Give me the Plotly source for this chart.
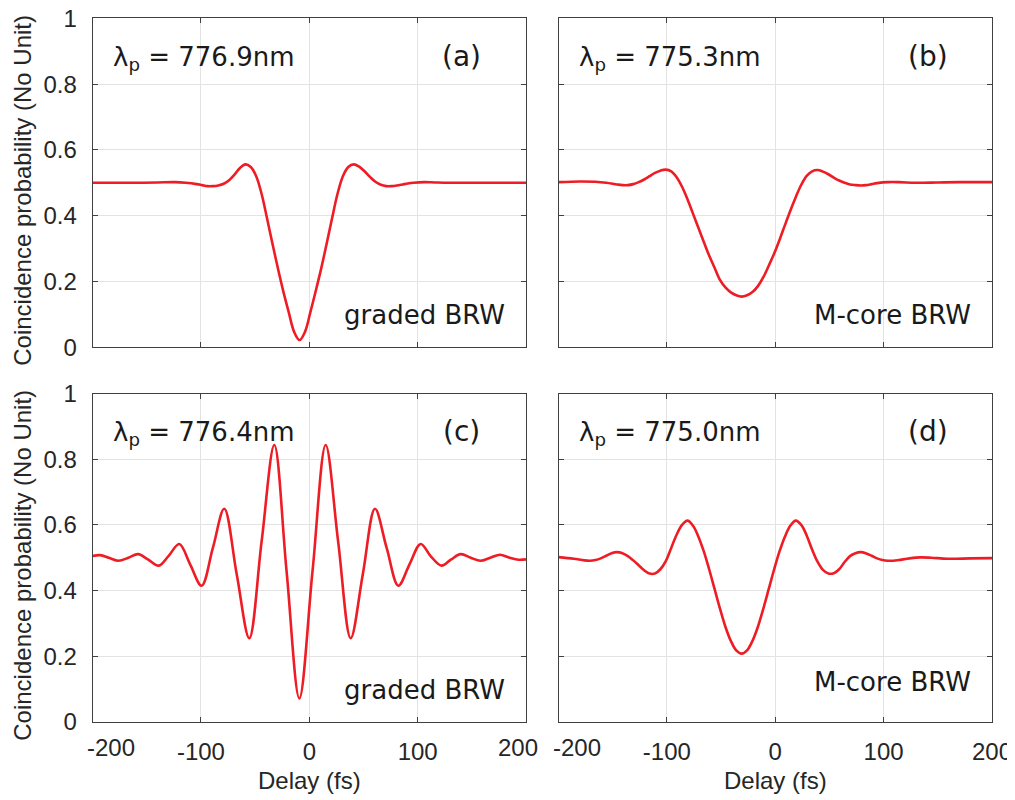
import plotly.graph_objects as go
from plotly.subplots import make_subplots

# (a) graded BRW, lambda_p = 776.9 nm
delay_a = [-200, -180, -160, -140, -124, -114, -104, -99, -94, -89, -84, -79, -74, -69, -64,
           -59, -54, -49, -44, -39, -34, -29, -24, -19, -14, -9, -4, 1, 6, 11, 16, 21, 26, 31, 36, 41,
           46, 51, 56, 61, 66, 71, 76, 81, 86, 91, 96, 106, 116, 130, 160, 200]
prob_a = [0.500, 0.500, 0.500, 0.501, 0.502, 0.500, 0.496, 0.493, 0.490, 0.490, 0.492, 0.497,
          0.508, 0.525, 0.545, 0.556, 0.548, 0.520, 0.466, 0.392, 0.315, 0.240, 0.170, 0.107, 0.047,
          0.022, 0.047, 0.107, 0.172, 0.240, 0.315, 0.392, 0.466, 0.520, 0.548, 0.556, 0.549, 0.535,
          0.518, 0.503, 0.494, 0.490, 0.490, 0.492, 0.495, 0.498, 0.500, 0.502, 0.501, 0.500, 0.500,
          0.500]

# (b) M-core BRW, lambda_p = 775.3 nm
delay_b = [-200, -180, -166, -156, -146, -141, -136, -131, -126, -121, -116, -111, -106, -101, -96,
           -91, -86, -81, -76, -71, -66, -61, -56, -51, -46, -41, -36, -31, -26, -21, -16, -11, -6,
           -1, 4, 9, 14, 19, 24, 29, 34, 39, 44, 49, 54, 59, 64, 69, 74, 79, 84, 89, 94, 104, 114,
           130, 150, 170, 200]
prob_b = [0.502, 0.504, 0.503, 0.500, 0.495, 0.493, 0.493, 0.496, 0.502, 0.510, 0.520, 0.530,
          0.537, 0.540, 0.535, 0.517, 0.488, 0.450, 0.407, 0.364, 0.321, 0.279, 0.242, 0.205, 0.182,
          0.167, 0.158, 0.154, 0.158, 0.168, 0.186, 0.213, 0.248, 0.285, 0.327, 0.372, 0.416, 0.457,
          0.494, 0.521, 0.535, 0.539, 0.534, 0.526, 0.516, 0.507, 0.500, 0.495, 0.493, 0.492, 0.493,
          0.496, 0.499, 0.502, 0.502, 0.500, 0.501, 0.502, 0.502]

# (c) graded BRW, lambda_p = 776.4 nm
delay_c = [-200, -193, -185, -176, -167, -158, -149, -139, -130, -120, -110, -99.4, -89, -78.5, -67,
           -55.4, -44, -32.3, -21, -9.2, 3, 15.1, 26.6, 38.2, 49.4, 60.6, 71.4, 82.2, 92.5, 102.8,
           112, 122, 131, 139.7, 149, 158, 167, 176, 185, 193, 200]
prob_c = [0.505, 0.508, 0.500, 0.491, 0.500, 0.511, 0.495, 0.476, 0.505, 0.542, 0.480, 0.415, 0.530,
          0.649, 0.450, 0.255, 0.550, 0.843, 0.460, 0.072, 0.460, 0.843, 0.550, 0.255, 0.450, 0.649,
          0.530, 0.415, 0.480, 0.542, 0.505, 0.476, 0.495, 0.511, 0.500, 0.491, 0.500, 0.509, 0.500,
          0.494, 0.495]

# (d) M-core BRW, lambda_p = 775.0 nm
delay_d = [-200, -186, -176, -171, -166, -161, -156, -151, -146, -141, -136, -131, -126, -121, -116,
           -111, -106, -101, -96, -91, -86, -81, -76, -71, -66, -61, -56, -51, -46, -41, -36, -31,
           -26, -21, -16, -11, -6, -1, 4, 9, 14, 19, 24, 29, 34, 39, 44, 49, 54, 59, 64, 69, 74, 79,
           84, 89, 94, 99, 104, 109, 114, 124, 134, 144, 159, 180, 200]
prob_d = [0.502, 0.497, 0.492, 0.491, 0.493, 0.498, 0.506, 0.514, 0.517, 0.514, 0.505, 0.492, 0.477,
          0.462, 0.452, 0.452, 0.465, 0.490, 0.530, 0.570, 0.600, 0.613, 0.598, 0.565, 0.520, 0.465,
          0.405, 0.345, 0.290, 0.247, 0.218, 0.208, 0.218, 0.247, 0.290, 0.345, 0.405, 0.465, 0.520,
          0.565, 0.598, 0.613, 0.600, 0.568, 0.525, 0.488, 0.463, 0.452, 0.453, 0.465, 0.487, 0.505,
          0.514, 0.517, 0.513, 0.506, 0.498, 0.493, 0.491, 0.491, 0.493, 0.498, 0.501, 0.500, 0.497,
          0.498, 0.499]

wavelengths = ["776.9", "775.3", "776.4", "775.0"]
tags = ["(a)", "(b)", "(c)", "(d)"]
devices = ["graded BRW", "M-core BRW", "graded BRW", "M-core BRW"]

# the page adds an 8px body margin, so the figure is drawn 8px in from the window corner
OFF = 8
W, H = 1015 - OFF, 800 - OFF
red = "#ee1d25"
ink = "#262626"

fig = make_subplots(rows=2, cols=2)
curves = [(delay_a, prob_a), (delay_b, prob_b), (delay_c, prob_c), (delay_d, prob_d)]
for i, (x, y) in enumerate(curves):
    fig.add_trace(go.Scatter(x=x, y=y, mode="lines", showlegend=False, hoverinfo="skip",
                             line=dict(color=red, width=2.6, shape="spline", smoothing=1)),
                  row=i // 2 + 1, col=i % 2 + 1)

# panel boxes in window pixels (left, right, top, bottom)
boxes = [(92.6, 526, 18.3, 347.3), (558.5, 992, 18.3, 347.3),
         (92.6, 526, 393.5, 722), (558.5, 992, 393.5, 722)]

def px(x):
    return (x - OFF) / W

def py(y):
    return 1 - (y - OFF) / H

for i, (l, r, t, b) in enumerate(boxes):
    n = "" if i == 0 else str(i + 1)
    bottom = i >= 2
    left = i % 2 == 0
    xt = ["", "-100", "0", "100", "200" if i == 3 else ""] if bottom else [""] * 5
    yt = ["0", "0.2", "0.4", "0.6", "0.8", "1"] if left else [""] * 6
    fig.layout["xaxis" + n].update(
        domain=[px(l), px(r)], range=[-200, 200], tickvals=[-200, -100, 0, 100, 200], ticktext=xt,
        showgrid=True, gridcolor="#e3e3e3", gridwidth=1, zeroline=False, automargin=False,
        showline=True, linecolor="#404040", linewidth=1, mirror="allticks",
        ticks="inside", ticklen=5, tickcolor="#404040", ticklabelstandoff=8,
        ticklabeloverflow="allow",
        tickfont=dict(family="Liberation Sans", size=24, color=ink))
    fig.layout["yaxis" + n].update(
        domain=[py(b), py(t)], range=[0, 1], tickvals=[0, 0.2, 0.4, 0.6, 0.8, 1], ticktext=yt,
        showgrid=True, gridcolor="#e3e3e3", gridwidth=1, zeroline=False, automargin=False,
        showline=True, linecolor="#404040", linewidth=1, mirror="allticks",
        ticks="inside", ticklen=5, tickcolor="#404040", ticklabelstandoff=10,
        ticklabeloverflow="allow",
        tickfont=dict(family="Liberation Sans", size=24, color=ink))

ann = []
lab_font = dict(family="DejaVu Sans", size=26, color="#1a1a1a")
tag_font = dict(family="DejaVu Sans", size=28, color="#1a1a1a")
tick_font = dict(family="Liberation Sans", size=24, color=ink)
for i, (l, r, t, b) in enumerate(boxes):
    ann.append(dict(text="λ<sub>p</sub> = " + wavelengths[i] + "nm", x=px(l + 18), y=py(t + 40),
                    xanchor="left", yanchor="middle", font=lab_font))
    ann.append(dict(text=tags[i], x=px(l + 369), y=py(t + 38), xanchor="center", yanchor="middle",
                    font=tag_font))
    dy = -8 if i == 3 else 0
    ann.append(dict(text=devices[i], x=px(r - 19), y=py(b - 32 + dy), xanchor="right",
                    yanchor="middle", font=lab_font))
    if i >= 2:
        ann.append(dict(text="-200", x=px(l + 18), y=py(b + 25), xanchor="center", yanchor="middle",
                        font=tick_font))
        ann.append(dict(text="Delay (fs)", x=px((l + r) / 2), y=py(780), xanchor="center",
                        yanchor="middle", font=tick_font))
    if i == 2:
        ann.append(dict(text="200", x=px(r - 8), y=py(b + 25), xanchor="center", yanchor="middle",
                        font=tick_font))
    if i % 2 == 0:
        ann.append(dict(text="Coincidence probability (No Unit)", x=px(23), y=py((t + b) / 2 + 8),
                        xanchor="center", yanchor="middle", textangle=-90, font=tick_font))

for a in ann:
    a.update(xref="paper", yref="paper", showarrow=False)

fig.update_layout(width=W, height=H, margin=dict(l=0, r=0, t=0, b=0),
                  paper_bgcolor="white", plot_bgcolor="white", annotations=ann)

fig.write_html("out.html")
